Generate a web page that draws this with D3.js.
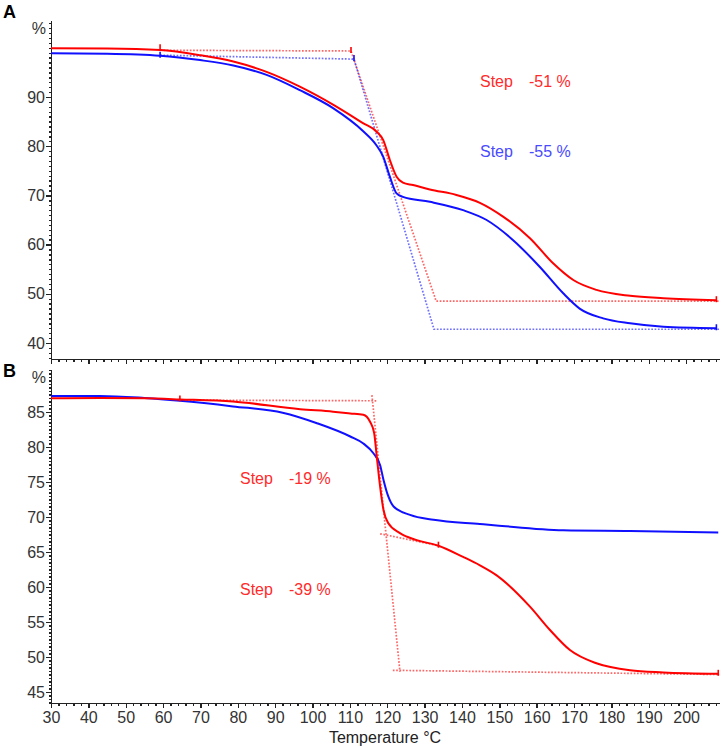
<!DOCTYPE html>
<html lang="en">
	<head>
		<meta charset="utf-8">
		<title>TGA steps</title>
		<script src="https://cdn.jsdelivr.net/npm/d3@7"></script>
		<style type="text/css">
		body { margin: 0; background: #fff; }
		text { font-family: "Liberation Sans", Arial, sans-serif; }
		.axis path, .axis line { fill: none; stroke: #222; stroke-width: 1.4; shape-rendering: crispEdges; }
		.axis text { font-size: 16px; fill: #333; }
		.curve { fill: none; stroke-width: 2; }
		.evalline { fill: none; stroke-width: 1.7; stroke-dasharray: 1.7,1.6; opacity: 0.6; }
		</style>
	</head>
	<body>
		<script type="text/javascript">
		// x range shared by both panels (deg C)
		var tempDomain = [30, 208.8];
		var tempTicks = [30, 40, 50, 60, 70, 80, 90, 100, 110, 120, 130, 140, 150, 160, 170, 180, 190, 200];

		// panel A: temperature / mass %
		var redA_T = [30, 45, 59.2, 69.9, 78.8, 87.7, 96.6, 105.6, 113.5, 117.1, 118.9, 120.7, 122.5, 124.2, 126.9, 131.4, 138.5, 144.8, 151.0, 158.2, 164.4, 169.8, 176.0, 185.0, 193.9, 208.1];
		var redA_v = [99.9, 99.85, 99.55, 98.5, 97.2, 95.1, 92.1, 88.4, 84.7, 83.0, 81.3, 77.2, 73.8, 72.6, 72.1, 71.2, 70.1, 68.5, 65.7, 61.3, 56.2, 52.8, 50.8, 49.6, 49.1, 48.7];
		var blueA_T = [30, 45, 59.2, 69.9, 78.8, 87.7, 96.6, 105.6, 113.5, 117.1, 118.9, 120.7, 122.5, 124.2, 131.4, 140.3, 146.6, 153.7, 160.8, 167.1, 171.5, 177.8, 185.0, 193.9, 208.1];
		var blueA_v = [98.9, 98.8, 98.4, 97.5, 96.4, 94.5, 91.4, 87.7, 83.1, 80.2, 77.9, 73.8, 70.4, 69.7, 68.7, 67.0, 65.0, 60.9, 55.5, 50.1, 47.0, 45.0, 44.0, 43.3, 43.0];
		// step evaluation lines A
		var redStepA = [[59.2, 99.5], [110.3, 99.35], [133.1, 48.5], [209, 48.5]];
		var blueStepA = [[59.2, 98.5], [111.1, 97.7], [132.5, 42.8], [209, 42.8]];
		var markersA = [[59.2, 99.9, "red"], [59.2, 98.4, "blue"], [110.3, 99.35, "red"], [111.1, 97.7, "blue"], [208.1, 48.7, "red"], [208.1, 43.0, "blue"]];
		var yTicksA = [40, 50, 60, 70, 80, 90];
		var labelsA = [["Step", "-51 %", 0, 87, "red"], ["Step", "-55 %", 0, 157, "blue"]];

		// panel B
		var redB_T = [30, 43, 55, 64.5, 78.7, 96.7, 105.5, 110.1, 113.6, 115.4, 116.5, 117.2, 118.1, 119.0, 120.3, 123.4, 127.9, 133.7, 140.3, 144.8, 149.2, 158.2, 163.5, 168.9, 176, 185, 193.9, 208.6];
		var redB_v = [86.95, 87.0, 86.95, 86.8, 86.5, 85.4, 85.05, 84.8, 84.6, 83.6, 82.0, 78.6, 74.3, 71.0, 69.1, 67.7, 66.7, 65.9, 64.3, 63.1, 61.7, 57.2, 53.9, 51.0, 49.1, 48.1, 47.8, 47.6];
		var blueB_T = [30, 43, 55, 64.5, 78.7, 92, 101.2, 110.1, 113.6, 116.3, 118.1, 119.0, 120.3, 121.7, 126.1, 132.4, 144.8, 149.2, 167.1, 185, 208.6];
		var blueB_v = [87.3, 87.3, 87.0, 86.6, 85.8, 84.9, 83.4, 81.5, 80.5, 79.1, 77.4, 75.3, 72.9, 71.5, 70.3, 69.6, 69.0, 68.8, 68.1, 68.0, 67.8];
		var redStepB = [[64.5, 86.7], [117.2, 86.6]];
		var redTangentB = [[115.9, 87.4], [123.4, 47.9]];
		var redMidB = [[118.1, 67.6], [133.7, 65.9]];
		var redBaseB = [[121.5, 48.1], [209, 47.5]];
		var markersB = [[64.5, 86.8, "red"], [133.7, 65.9, "red"], [208.6, 47.6, "red"]];
		var yTicksB = [45, 50, 55, 60, 65, 70, 75, 80, 85];
		var labelsB = [["Step", "-19 %", 0, 484, "red"], ["Step", "-39 %", 0, 595, "red"]];

		var curveColor = {red: "#ff0000", blue: "#1010ff"};
		var textColor = {red: "#ff2a2a", blue: "#4a4aff"};

		var W = 726, H = 748;
		var svg = d3.select("body").append("svg")
					.attr("width", W)
					.attr("height", H);

		var x = d3.scaleLinear().domain(tempDomain).range([51, 719]);

		function zip(ts, vs){ return ts.map(function(t, i){ return [t, vs[i]]; }); }

		function drawPanel(p){
			var y = d3.scaleLinear().domain(p.yDomain).range([p.bottom, p.top]);

			// minor ticks
			svg.append("g")
				.attr("class", "axis")
				.attr("transform", "translate(51,0)")
				.call(d3.axisLeft(y).tickValues(d3.range(Math.ceil(p.yDomain[0] / p.minor) * p.minor, p.yDomain[1], p.minor))
					.tickSize(2.5).tickSizeOuter(0).tickFormat(""));
			// major ticks + labels
			svg.append("g")
				.attr("class", "axis")
				.attr("transform", "translate(51,0)")
				.call(d3.axisLeft(y).tickValues(p.yTicks).tickSize(5).tickPadding(1).tickSizeOuter(0).tickFormat(d3.format("d")));

			svg.append("g")
				.attr("class", "axis")
				.attr("transform", "translate(0," + p.bottom + ")")
				.call(d3.axisBottom(x).tickValues(d3.range(30, tempDomain[1], 2)).tickSize(2.5).tickSizeOuter(0).tickFormat(""));
			var xa = svg.append("g")
				.attr("class", "axis")
				.attr("transform", "translate(0," + p.bottom + ")")
				.call(d3.axisBottom(x).tickValues(tempTicks).tickSize(5).tickPadding(4).tickSizeOuter(0));
			if (!p.xLabels) xa.selectAll("text").remove();

			// unit and panel letter
			svg.append("text").attr("x", 46).attr("y", p.top + 14)
				.attr("text-anchor", "end").style("font-size", "16px").style("fill", "#333").text("%");
			svg.append("text").attr("x", 3).attr("y", p.letterY)
				.style("font-size", "18px").style("font-weight", "bold").text(p.letter);

			var line = d3.line()
				.x(function(d){ return x(d[0]); })
				.y(function(d){ return y(d[1]); });

			// evaluation lines
			p.steps.forEach(function(s){
				svg.append("path").attr("class", "evalline")
					.attr("d", line(s.pts))
					.style("stroke", curveColor[s.c]);
			});

			// curves
			p.curves.forEach(function(c){
				svg.append("path").attr("class", "curve")
					.attr("d", line.curve(d3.curveMonotoneX)(c.pts))
					.style("stroke", curveColor[c.c]);
				line.curve(d3.curveLinear);
			});

			// evaluation markers
			svg.selectAll(null).data(p.markers).enter().append("line")
				.attr("x1", function(d){ return x(d[0]); })
				.attr("x2", function(d){ return x(d[0]); })
				.attr("y1", function(d){ return y(d[1]) - 4; })
				.attr("y2", function(d){ return y(d[1]) + 2; })
				.style("stroke", function(d){ return curveColor[d[2]]; })
				.style("stroke-width", 1.6);

			// step labels
			p.labels.forEach(function(l){
				svg.append("text").attr("x", p.labelX).attr("y", l[3])
					.style("font-size", "16px").style("fill", textColor[l[4]]).text(l[0]);
				svg.append("text").attr("x", p.labelX + 49).attr("y", l[3])
					.style("font-size", "16px").style("fill", textColor[l[4]]).text(l[1]);
			});
		}

		drawPanel({
			top: 20, bottom: 359, yDomain: [36.75, 105.65], yTicks: yTicksA, minor: 1,
			xLabels: false, letter: "A", letterY: 18, labelX: 480,
			curves: [{pts: zip(redA_T, redA_v), c: "red"}, {pts: zip(blueA_T, blueA_v), c: "blue"}],
			steps: [{pts: redStepA, c: "red"}, {pts: blueStepA, c: "blue"}],
			markers: markersA, labels: labelsA
		});

		drawPanel({
			top: 369, bottom: 703, yDomain: [43.43, 91.14], yTicks: yTicksB, minor: 0.5,
			xLabels: true, letter: "B", letterY: 377, labelX: 240,
			curves: [{pts: zip(blueB_T, blueB_v), c: "blue"}, {pts: zip(redB_T, redB_v), c: "red"}],
			steps: [{pts: redStepB, c: "red"}, {pts: redTangentB, c: "red"}, {pts: redMidB, c: "red"}, {pts: redBaseB, c: "red"}],
			markers: markersB, labels: labelsB
		});

		svg.append("text")
			.attr("x", 385).attr("y", 743)
			.attr("text-anchor", "middle")
			.style("font-size", "16px").style("fill", "#222")
			.text("Temperature °C");
		</script>
	</body>
</html>
